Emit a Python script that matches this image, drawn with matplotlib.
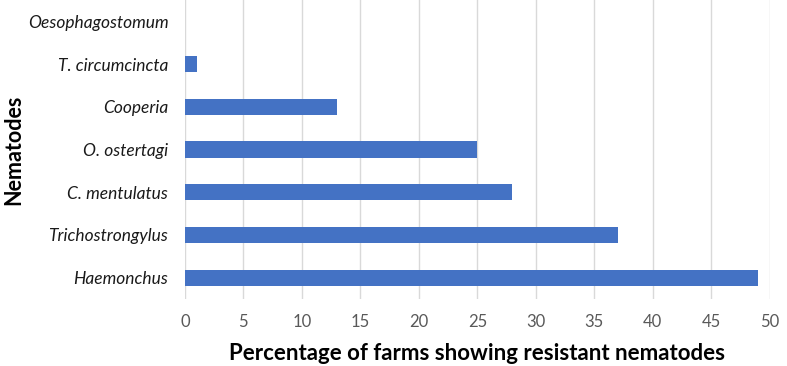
import matplotlib
matplotlib.use('Agg')
from matplotlib import pyplot as plt
import numpy as np

# nematodes, bottom to top as drawn
nematodes = ['Haemonchus', 'Trichostrongylus', 'C. mentulatus', 'O. ostertagi',
             'Cooperia', 'T. circumcincta', 'Oesophagostomum']
pct_farms = [49, 37, 28, 25, 13, 1, 0]
x_ticks = list(range(0, 55, 5))

plt.rcParams['font.family'] = ['Lato', 'DejaVu Sans']

fig = plt.figure(figsize=(7.87, 3.66), dpi=100)
ax = fig.add_axes([0.235, 0.183, 0.743, 0.817])

ys = np.arange(len(nematodes))
ax.barh(ys, pct_farms, height=0.38, color='#4472C4', zorder=3)

ax.set_xlim(0, 50)
ax.set_ylim(-0.5, len(nematodes) - 0.5)
ax.set_xticks(x_ticks)
ax.set_yticks(ys)
ax.set_yticklabels(nematodes, style='italic', fontsize=12.5, color='#1a1a1a')
ax.tick_params(axis='x', labelsize=12, labelcolor='#595959', length=0, pad=11)
ax.tick_params(axis='y', length=0, pad=12)
ax.grid(axis='x', color='#D9D9D9', linewidth=1, zorder=0)
for s in ax.spines.values():
    s.set_visible(False)

ax.set_xlabel('Percentage of farms showing resistant nematodes', fontsize=16,
              fontweight='bold', labelpad=9)
fig.text(0.018, 0.59, 'Nematodes', rotation=90, fontsize=15.5, fontweight='bold',
         ha='center', va='center')

fig.savefig('out.png', dpi=100)
